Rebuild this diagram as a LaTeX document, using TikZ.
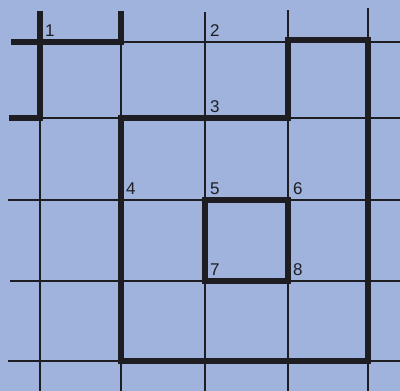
\documentclass[tikz,border=0pt]{standalone}
\usepackage{fontspec}
\setmainfont{Liberation Sans}
\definecolor{paper}{HTML}{9FB3DC}
\definecolor{ink}{HTML}{1E1E22}
\begin{document}
\begin{tikzpicture}[x=1pt,y=-1pt,
  thinline/.style={draw=ink,line width=1.8pt},
  thickline/.style={draw=ink,line width=5.4pt,line cap=rect,line join=miter},
  lab/.style={anchor=south west,inner sep=0pt,text=ink,font=\fontsize{17}{19}\selectfont}]
\fill[paper] (0,0) rectangle (400,391);
\useasboundingbox (0,0) rectangle (400,391);
% grid coordinates
\foreach \c/\x in {a/40,b/121,c/205,d/288,e/368}{
  \foreach \r/\y in {1/42,2/118,3/200,4/281,5/361}{
    \coordinate (\c\r) at (\x,\y);
  }
}
% thin grid
\foreach \x/\t in {40/12,121/12,205/12,288/10,368/8}{
  \draw[thinline] (\x,\t) -- (\x,391);
}
\foreach \y/\s in {42/12,118/10,200/8,281/10,361/8}{
  \draw[thinline] (\s,\y) -- (400,\y);
}
% thick segments
\draw[thickline] (40,14) -- (a2);
\draw[thickline] (14,42) -- (b1) -- (121,14);
\draw[thickline] (12,118) -- (a2);
\draw[thickline] (b2) -- (d2) -- (288,40) -- (368,40) -- (e5) -- (b5) -- cycle;
\draw[thickline] (c3) -- (d3) -- (d4) -- (c4) -- cycle;
% labels
\node[lab] (l1) at ([xshift=5pt,yshift=5pt]a1) {1};
\node[lab] (l2) at ([xshift=5pt,yshift=5pt]c1) {2};
\node[lab] (l3) at ([xshift=5pt,yshift=5pt]c2) {3};
\node[lab] (l4) at ([xshift=5pt,yshift=5pt]b3) {4};
\node[lab] (l5) at ([xshift=5pt,yshift=5pt]c3) {5};
\node[lab] (l6) at ([xshift=5pt,yshift=5pt]d3) {6};
\node[lab] (l7) at ([xshift=5pt,yshift=5pt]c4) {7};
\node[lab] (l8) at ([xshift=5pt,yshift=5pt]d4) {8};
\end{tikzpicture}
\end{document}
